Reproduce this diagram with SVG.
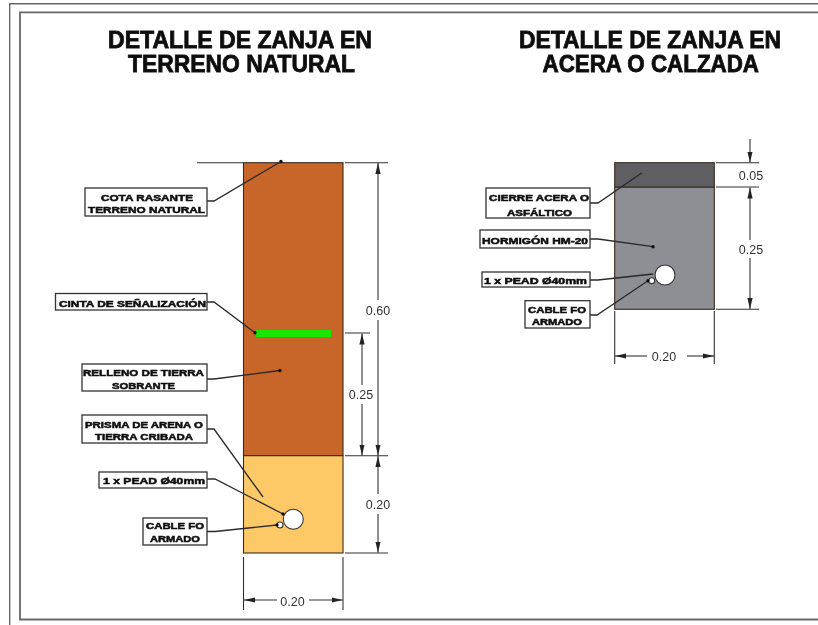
<svg xmlns="http://www.w3.org/2000/svg" width="818" height="625" viewBox="0 0 818 625">
<defs>
<marker id="arrow" markerUnits="userSpaceOnUse" markerWidth="12" markerHeight="7" refX="11" refY="3" orient="auto-start-reverse"><path d="M0 0.4L11 3L0 5.6Z" fill="#222"/></marker>
<marker id="dot" markerUnits="userSpaceOnUse" markerWidth="5" markerHeight="5" refX="2.5" refY="2.5"><circle cx="2.5" cy="2.5" r="1.7" fill="#111"/></marker>
<filter id="soft" x="0" y="0" width="100%" height="100%"><feGaussianBlur stdDeviation="0.35"/></filter>
</defs>
<style>
.frame{fill:none;stroke:#666;stroke-width:1.8}
.mat{stroke:#3a2a20;stroke-width:1.1}
.box{fill:#fff;stroke:#333;stroke-width:1.3}
.lab{font-family:"Liberation Sans",Arial,sans-serif;font-weight:700;font-size:9.5px;fill:#111;stroke:#111;stroke-width:.55}
.title{font-family:"Liberation Sans",Arial,sans-serif;font-weight:700;font-size:23.5px;fill:#111;stroke:#111;stroke-width:.8}
.dimt{font-family:"Liberation Sans",Arial,sans-serif;font-size:12.5px;fill:#333;text-anchor:middle}
.ext{stroke:#333;stroke-width:1.1;fill:none}
.dim{stroke:#333;stroke-width:1.1;fill:none}
.lead{stroke:#2a2a2a;stroke-width:1.3;fill:none}
.hole{fill:#fff;stroke:#333;stroke-width:1.1}
</style>
<rect width="818" height="625" fill="#fff"/>
<g filter="url(#soft)">
<g id="frame">
<path class="frame" d="M818 3.7H9.5V625"/>
<path class="frame" d="M818 12.3H20V619.5H818"/>
</g>
<g id="titles">
<text class="title" x="108" y="48" textLength="264" lengthAdjust="spacingAndGlyphs">DETALLE DE ZANJA EN</text>
<text class="title" x="128" y="72" textLength="227" lengthAdjust="spacingAndGlyphs">TERRENO NATURAL</text>
<text class="title" x="519" y="48" textLength="262" lengthAdjust="spacingAndGlyphs">DETALLE DE ZANJA EN</text>
<text class="title" x="542.5" y="72" textLength="216.5" lengthAdjust="spacingAndGlyphs">ACERA O CALZADA</text>
</g>
<g id="zanja-terreno">
<rect class="mat" x="243.5" y="162.7" width="99.5" height="293" fill="#C8662A"/>
<rect class="mat" x="243.5" y="455.7" width="99.5" height="97.3" fill="#FDC966"/>
<rect x="256" y="330" width="75" height="7" fill="#14E600"/>
<circle class="hole" cx="293.3" cy="519.3" r="10"/>
<circle class="hole" cx="280" cy="525" r="3"/>
</g>
<g id="zanja-acera">
<rect class="mat" x="614.7" y="187" width="99.6" height="122.3" fill="#8E8F94"/>
<rect class="mat" x="614.7" y="162.7" width="99.6" height="24.3" fill="#5E5F64"/>
<circle class="hole" cx="665" cy="275" r="10"/>
<circle class="hole" cx="651.7" cy="280.7" r="3"/>
</g>
<g id="connectors">
<path class="lead" d="M207 201H214L281 161.5" marker-end="url(#dot)"/>
<path class="lead" d="M207 302H214L255 332.7" marker-end="url(#dot)"/>
<path class="lead" d="M207 379H214L280 370.5" marker-end="url(#dot)"/>
<path class="lead" d="M207 429H214L263 497"/>
<path class="lead" d="M207 479H215L283 514" marker-end="url(#dot)"/>
<path class="lead" d="M207 531.5H215L277 525" marker-end="url(#dot)"/>
<path class="lead" d="M590 203H598L642 172.7"/>
<path class="lead" d="M590 239H598L653 246.7" marker-end="url(#dot)"/>
<path class="lead" d="M590 280H598L653 274"/>
<path class="lead" d="M590 315H597L648 280.7" marker-end="url(#dot)"/>
</g>
<g id="dimensions">
<path class="ext" d="M197 162.7H243M345 162.7H388M345 333H370M345 455.7H388M345 553H388M243.5 557V610M343 557V610"/>
<path class="dim" d="M378 300V163" marker-end="url(#arrow)"/>
<path class="dim" d="M378 320V455.5" marker-end="url(#arrow)"/>
<path class="dim" d="M378 494V456" marker-end="url(#arrow)"/>
<path class="dim" d="M378 514V552.5" marker-end="url(#arrow)"/>
<path class="dim" d="M362 385V333.5" marker-end="url(#arrow)"/>
<path class="dim" d="M362 404V455.5" marker-end="url(#arrow)"/>
<path class="dim" d="M277 600H244" marker-end="url(#arrow)"/>
<path class="dim" d="M309 600H342.5" marker-end="url(#arrow)"/>
<text class="dimt" x="378" y="315">0.60</text>
<text class="dimt" x="361" y="399">0.25</text>
<text class="dimt" x="378" y="509">0.20</text>
<text class="dimt" x="292.5" y="606">0.20</text>
<path class="ext" d="M716 162.7H759M716 187H759M716 309.3H759M614.7 311V364M714.3 311V364"/>
<path class="dim" d="M750 139V162.5" marker-end="url(#arrow)"/>
<path class="dim" d="M750 240V187.5" marker-end="url(#arrow)"/>
<path class="dim" d="M750 258V309" marker-end="url(#arrow)"/>
<path class="dim" d="M647 356H615" marker-end="url(#arrow)"/>
<path class="dim" d="M687 356H714" marker-end="url(#arrow)"/>
<text class="dimt" x="751" y="179.5">0.05</text>
<text class="dimt" x="751" y="253.5">0.25</text>
<text class="dimt" x="664" y="361">0.20</text>
</g>
<g id="label-cota"><rect class="box" x="85" y="188" width="122" height="28"/>
<text class="lab" x="101" y="200.7" textLength="92" lengthAdjust="spacingAndGlyphs">COTA RASANTE</text>
<text class="lab" x="88" y="213" textLength="117" lengthAdjust="spacingAndGlyphs">TERRENO NATURAL</text></g>
<g id="label-cinta"><rect class="box" x="55.5" y="293.5" width="151.5" height="16.5"/>
<text class="lab" x="59" y="307" textLength="147" lengthAdjust="spacingAndGlyphs">CINTA DE SEÑALIZACIÓN</text></g>
<g id="label-relleno"><rect class="box" x="82" y="364" width="125" height="27"/>
<text class="lab" x="83" y="376" textLength="121" lengthAdjust="spacingAndGlyphs">RELLENO DE TIERRA</text>
<text class="lab" x="112" y="389" textLength="63" lengthAdjust="spacingAndGlyphs">SOBRANTE</text></g>
<g id="label-prisma"><rect class="box" x="82" y="415" width="125" height="28"/>
<text class="lab" x="85" y="428" textLength="118" lengthAdjust="spacingAndGlyphs">PRISMA DE ARENA O</text>
<text class="lab" x="95" y="440" textLength="98" lengthAdjust="spacingAndGlyphs">TIERRA CRIBADA</text></g>
<g id="label-pead"><rect class="box" x="99" y="472" width="108" height="16"/>
<text class="lab" x="103" y="484" textLength="102" lengthAdjust="spacingAndGlyphs">1 x  PEAD Ø40mm</text></g>
<g id="label-cable"><rect class="box" x="143" y="518" width="64" height="27"/>
<text class="lab" x="146" y="529" textLength="58" lengthAdjust="spacingAndGlyphs">CABLE FO</text>
<text class="lab" x="150" y="542" textLength="50" lengthAdjust="spacingAndGlyphs">ARMADO</text></g>
<g id="label-cierre"><rect class="box" x="486" y="188" width="104" height="30"/>
<text class="lab" x="489" y="200.7" textLength="100" lengthAdjust="spacingAndGlyphs">CIERRE ACERA O</text>
<text class="lab" x="507" y="215.5" textLength="65" lengthAdjust="spacingAndGlyphs">ASFÁLTICO</text></g>
<g id="label-hormigon"><rect class="box" x="480" y="230" width="110" height="18"/>
<text class="lab" x="482" y="244" textLength="106" lengthAdjust="spacingAndGlyphs">HORMIGÓN HM-20</text></g>
<g id="label-pead-2"><rect class="box" x="482" y="272" width="108" height="15"/>
<text class="lab" x="484" y="283.5" textLength="103" lengthAdjust="spacingAndGlyphs">1 x  PEAD Ø40mm</text></g>
<g id="label-cable-2"><rect class="box" x="525" y="300.7" width="65" height="27.3"/>
<text class="lab" x="528" y="312.7" textLength="58" lengthAdjust="spacingAndGlyphs">CABLE FO</text>
<text class="lab" x="532" y="325" textLength="50" lengthAdjust="spacingAndGlyphs">ARMADO</text></g>
</g>
</svg>
